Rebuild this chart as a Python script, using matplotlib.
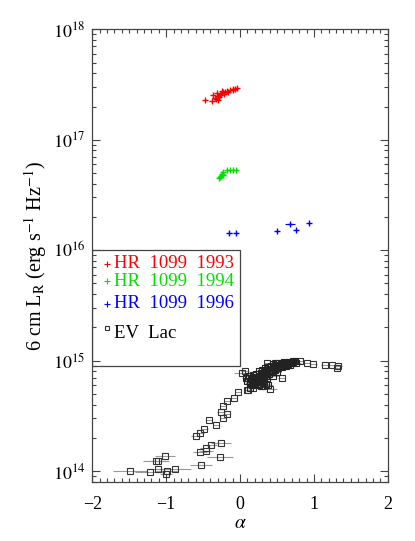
import matplotlib
matplotlib.use("Agg")
import matplotlib.pyplot as plt
from matplotlib.patches import Rectangle
from matplotlib.ticker import MultipleLocator, LogLocator, NullFormatter

plt.rcParams['font.family'] = ['Liberation Serif', 'DejaVu Serif']
plt.rcParams['mathtext.fontset'] = 'stix'

# HR 1099, three epochs
hr93_alpha = [-0.474, -0.362, -0.375, -0.338, -0.315, -0.294, -0.271, -0.248, -0.226, -0.180,
              -0.158, -0.135, -0.091, -0.045, -0.32, -0.30, -0.28, -0.26, -0.22, -0.10, -0.07, -0.20]
hr93_lum = [2.31e17, 2.56e17, 2.22e17, 2.39e17, 2.65e17, 2.47e17, 2.56e17, 2.74e17, 2.69e17, 2.74e17,
            2.69e17, 2.80e17, 2.88e17, 2.94e17, 2.35e17, 2.30e17, 2.45e17, 2.60e17, 2.60e17, 2.80e17,
            2.90e17, 2.70e17]

hr94_alpha = [-0.280, -0.261, -0.248, -0.234, -0.226, -0.172, -0.135, -0.091, -0.054, -0.270]
hr94_lum = [4.50e16, 4.72e16, 4.92e16, 5.06e16, 4.82e16, 5.27e16, 5.27e16, 5.35e16, 5.35e16, 4.60e16]

hr96_alpha = [-0.145, -0.054, 0.497, 0.677, 0.758, 0.938]
hr96_lum = [1.43e16, 1.44e16, 1.50e16, 1.72e16, 1.52e16, 1.78e16]
hr96_err = [0.03, 0.03, 0.03, 0.07, 0.02, 0.02]

# EV Lac: outliers and tails
ev_alpha = [-1.489, -1.219, -1.106, -1.002, -0.993, -0.880, -1.137, -1.110, -1.016, -0.528,
            -0.541, -0.460, -0.460, -0.393, -0.257, -0.271, -0.596, -0.542, -0.483, -0.416,
            -0.329, -0.257, -0.180, -0.234, -0.226, -0.180, -0.081, -0.023, 0.091,
            0.023, 0.068, 0.406, 0.565, 0.112, 0.180, 0.316, 0.361, 0.474,
            0.722, 0.812, 0.903, 0.993, 1.151, 1.242, 1.331, 1.309]
ev_lum = [1.01e14, 0.97e14, 1.04e14, 0.94e14, 1.01e14, 1.04e14, 1.22e14, 1.23e14, 1.36e14, 1.14e14,
          1.48e14, 1.51e14, 1.62e14, 1.73e14, 1.79e14, 1.33e14, 2.06e14, 2.21e14, 2.41e14, 2.88e14,
          2.59e14, 3.45e14, 3.31e14, 3.00e14, 3.86e14, 4.32e14, 4.62e14, 5.24e14, 5.46e14,
          7.7e14, 8.0e14, 5.54e14, 6.97e14, 5.46e14, 5.65e14, 5.85e14, 9.5e14, 9.5e14,
          9.9e14, 1.0e15, 9.5e14, 9.3e14, 9.2e14, 9.2e14, 8.9e14, 8.6e14]
ev_err = [0.23, 0.20, 0.10, 0.08, 0.15, 0.22, 0.17, 0.12, 0.14, 0.15,
          0.10, 0.10, 0.08, 0.08, 0.13, 0.18, 0.07, 0.05, 0.05, 0.04,
          0.04, 0.05, 0.05, 0.04, 0.04, 0.04, 0.04, 0.04, 0.04,
          0.10, 0.05, 0.10, 0.05, 0.05, 0.05, 0.05, 0.04, 0.04,
          0.05, 0.05, 0.05, 0.05, 0.05, 0.05, 0.05, 0.05]

# EV Lac: dense clump near alpha 0.1-0.75
clump_alpha = [0.08, 0.10, 0.12, 0.13, 0.15, 0.16, 0.17, 0.18, 0.19, 0.20,
               0.21, 0.22, 0.23, 0.24, 0.25, 0.26, 0.27, 0.28, 0.29, 0.30,
               0.31, 0.32, 0.33, 0.34, 0.35, 0.36, 0.37, 0.38, 0.39, 0.40,
               0.42, 0.43, 0.44, 0.45, 0.47, 0.48, 0.50, 0.52, 0.53, 0.55,
               0.57, 0.58, 0.60, 0.62, 0.64, 0.66, 0.68, 0.70, 0.25, 0.28,
               0.35, 0.14, 0.45, 0.50, 0.38,
               0.11, 0.14, 0.17, 0.19, 0.21, 0.23, 0.25, 0.27, 0.29, 0.31,
               0.33, 0.35, 0.37, 0.39, 0.41, 0.43, 0.46, 0.49, 0.51, 0.54,
               0.56, 0.59, 0.61, 0.63, 0.65, 0.67, 0.69, 0.72, 0.74, 0.76,
               0.18, 0.22, 0.26, 0.30, 0.34, 0.40, 0.44, 0.48, 0.20, 0.32]
clump_lum = [7.0e14, 6.6e14, 7.2e14, 6.3e14, 6.8e14, 6.0e14, 7.4e14, 6.5e14, 6.1e14, 7.0e14,
             6.4e14, 7.6e14, 6.7e14, 6.2e14, 7.2e14, 8.0e14, 6.6e14, 7.5e14, 6.9e14, 8.2e14,
             7.1e14, 6.4e14, 7.8e14, 8.5e14, 7.3e14, 6.8e14, 8.0e14, 8.8e14, 7.6e14, 8.3e14,
             9.0e14, 7.9e14, 8.6e14, 9.3e14, 8.2e14, 8.9e14, 9.5e14, 8.6e14, 9.1e14, 9.6e14,
             8.8e14, 9.3e14, 9.7e14, 9.0e14, 9.5e14, 9.8e14, 9.2e14, 9.6e14, 6.0e14, 5.9e14,
             6.2e14, 5.7e14, 7.3e14, 7.8e14, 6.0e14,
             6.9e14, 6.5e14, 6.9e14, 7.1e14, 6.8e14, 7.0e14, 6.5e14, 7.0e14, 7.7e14, 7.5e14,
             7.0e14, 8.0e14, 7.5e14, 8.2e14, 8.7e14, 8.3e14, 8.8e14, 9.2e14, 8.9e14, 9.0e14,
             9.3e14, 9.6e14, 9.2e14, 9.6e14, 9.3e14, 9.6e14, 9.8e14, 9.7e14, 9.9e14, 9.6e14,
             6.9e14, 6.7e14, 6.8e14, 6.6e14, 7.6e14, 7.8e14, 8.1e14, 8.4e14, 6.3e14, 7.3e14]

x_ticks = [-2, -1, 0, 1, 2]
x_ticklabels = ['\u22122', '\u22121', '0', '1', '2']
y_ticks = [1e14, 1e15, 1e16, 1e17, 1e18]
y_ticklabels = [r'$10^{14}$', r'$10^{15}$', r'$10^{16}$', r'$10^{17}$', r'$10^{18}$']
legend_labels = ["HR  1099  1993", "HR  1099  1994", "HR  1099  1996", "EV  Lac"]

fig = plt.figure(figsize=(4.15, 5.41), dpi=100)
ax = fig.add_axes([0.2224, 0.1085, 0.712, 0.8373])

ax.errorbar(ev_alpha, ev_lum, xerr=ev_err, fmt='s', ms=4.2, mfc='none', mec='#333333',
            mew=0.8, ecolor='#999999', elinewidth=0.8, capsize=0, zorder=2)
ax.errorbar(clump_alpha, clump_lum, xerr=0.06, fmt='s', ms=4.2, mfc='none', mec='#222222',
            mew=0.8, ecolor='#999999', elinewidth=0.8, capsize=0, zorder=2)
ax.errorbar(hr93_alpha, hr93_lum, xerr=0.02, fmt='+', ms=5, mew=1.0, color='red',
            elinewidth=0.8, capsize=0, zorder=3)
ax.errorbar(hr94_alpha, hr94_lum, xerr=0.02, fmt='+', ms=5, mew=1.0, color='#00e000',
            elinewidth=0.8, capsize=0, zorder=3)
ax.errorbar(hr96_alpha, hr96_lum, xerr=hr96_err, fmt='+', ms=5, mew=1.0, color='blue',
            elinewidth=0.8, capsize=0, zorder=3)

ax.set_yscale('log')
ax.set_xticks(x_ticks, labels=x_ticklabels)
ax.set_yticks(y_ticks, labels=y_ticklabels)
ax.xaxis.set_minor_locator(MultipleLocator(0.1))
ax.yaxis.set_minor_locator(LogLocator(base=10, subs=range(2, 10)))
ax.yaxis.set_minor_formatter(NullFormatter())

ax.tick_params(which='both', direction='in', top=True, right=True, labelsize=13, color='#444444')
ax.tick_params(which='major', length=6, width=0.8)
ax.tick_params(which='minor', length=3, width=0.8)
ax.tick_params(axis='x', which='major', pad=10)
ax.tick_params(axis='y', which='major', pad=5)
for s in ax.spines.values():
    s.set_linewidth(0.9)
    s.set_color('#444444')

ax.set_xlabel(r'$\alpha$', fontsize=14, labelpad=1)
ax.set_ylabel(r'6 cm L$_{\mathrm{R}}$ (erg s$^{-1}$ Hz$^{-1}$)', fontsize=14.5, labelpad=3)

# legend box drawn in data coords
ax.add_patch(Rectangle((-2, 9.0e14), 2.0, 1e16 - 9.0e14, fill=False, ec='#444444', lw=0.9, zorder=4))
leg_y = [7.57e15, 5.24e15, 3.27e15, 1.75e15]
leg_colors = ['red', '#00e000', 'blue', 'black']
leg_marks = ['+', '+', '+', 's']
for y, lab, c, m in zip(leg_y, legend_labels, leg_colors, leg_marks):
    if m == 's':
        ax.plot(-1.805, y * 1.12, m, ms=3.5, mfc='none', mec='#333333', mew=0.8)
    else:
        ax.plot(-1.805, y, m, ms=4, mew=0.8, color=c)
    ax.text(-1.70, y, lab, color=c, fontsize=13.5, va='center', ha='left')

ax.set_xlim(-2, 2)
ax.set_ylim(7.9e13, 1e18)

fig.savefig('out.png', dpi=100)
